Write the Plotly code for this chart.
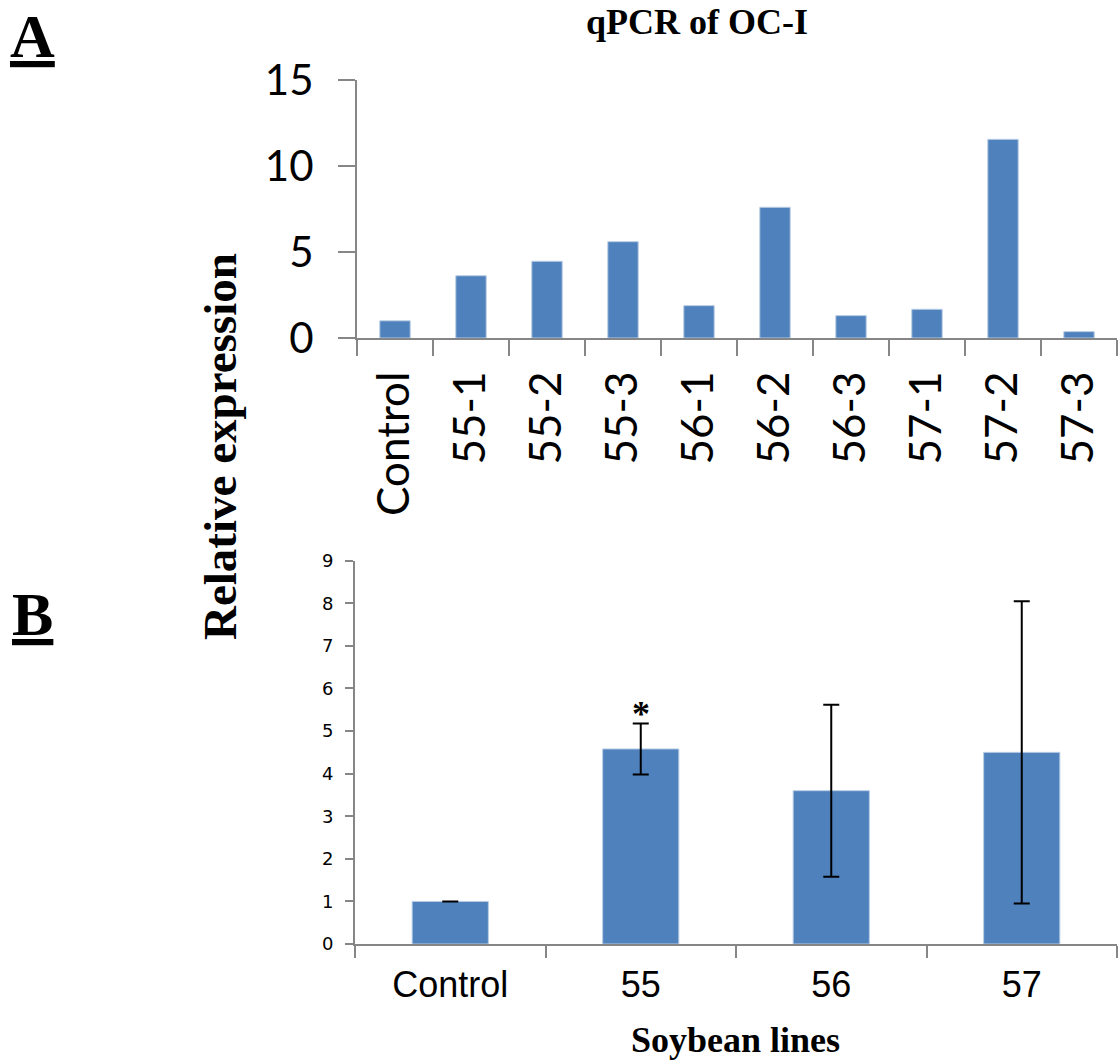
import plotly.graph_objects as go

# Panel A: individual transgenic lines
lines_a = ["Control", "55-1", "55-2", "55-3", "56-1", "56-2", "56-3", "57-1", "57-2", "57-3"]
expr_a = [1.0, 3.62, 4.46, 5.6, 1.88, 7.6, 1.3, 1.67, 11.55, 0.37]

# Panel B: mean per soybean line with error
lines_b = ["Control", "55", "56", "57"]
expr_b = [1.0, 4.58, 3.6, 4.5]
err_b = [0.0, 0.6, 2.02, 3.55]

W, H = 1118, 1062
BAR = "#4F81BD"
EDGE = "#B9CDE5"
AXIS = "#868686"


def px_x(x):
    return x / W


def px_y(y):
    return 1 - y / H


fig = go.Figure()

fig.add_trace(go.Bar(
    x=lines_a, y=expr_a, xaxis="x", yaxis="y",
    marker=dict(color=BAR, line=dict(color=EDGE, width=1)),
    showlegend=False,
))

fig.add_trace(go.Bar(
    x=lines_b, y=expr_b, xaxis="x2", yaxis="y2",
    marker=dict(color=BAR, line=dict(color=EDGE, width=1)),
    error_y=dict(type="data", array=err_b, visible=True,
                 color="black", thickness=2, width=8),
    showlegend=False,
))

axis_common = dict(showline=True, linecolor=AXIS, linewidth=2, showgrid=False,
                   zeroline=False, ticks="outside", tickcolor=AXIS, tickwidth=2,
                   automargin=False)

fig.update_layout(
    width=W, height=H,
    margin=dict(l=0, r=0, t=0, b=0),
    paper_bgcolor="white", plot_bgcolor="white",
    bargap=0.6,
    xaxis=dict(domain=[px_x(357), px_x(1117)], anchor="y", type="category",
               categoryorder="array", categoryarray=lines_a,
               range=[-0.5, len(lines_a) - 0.5],
               tickson="boundaries", ticklen=16, tickangle=-90,
               tickfont=dict(family="Lato", size=44, color="black"),
               ticklabelstandoff=14, **axis_common),
    yaxis=dict(domain=[px_y(338), px_y(80)], anchor="x", range=[0, 15],
               tickvals=[0, 5, 10, 15], ticklen=17,
               tickfont=dict(family="Lato", size=42, color="black"),
               ticklabelstandoff=16, **axis_common),
    xaxis2=dict(domain=[px_x(355), px_x(1117)], anchor="y2", type="category",
                categoryorder="array", categoryarray=lines_b,
                range=[-0.5, len(lines_b) - 0.5],
                tickson="boundaries", ticklen=12, tickangle=0,
                tickfont=dict(family="Liberation Sans", size=36, color="black"),
                ticklabelstandoff=8, **axis_common),
    yaxis2=dict(domain=[px_y(944), px_y(560.7)], anchor="x2", range=[0, 9],
                dtick=1, ticklen=8,
                tickfont=dict(family="DejaVu Sans", size=18, color="black"),
                ticklabelstandoff=8, **axis_common),
)

serif = "Liberation Serif"
notes = [
    dict(text="<b>qPCR of OC-I</b>", x=px_x(697), y=px_y(0), xanchor="center",
         yanchor="top", font=dict(family=serif, size=36, color="black")),
    dict(text="<b><u>A</u></b>", x=px_x(8), y=px_y(0), xanchor="left",
         yanchor="top", font=dict(family=serif, size=62, color="black")),
    dict(text="<b><u>B</u></b>", x=px_x(10), y=px_y(578), xanchor="left",
         yanchor="top", font=dict(family=serif, size=62, color="black")),
    dict(text="<b>Relative expression</b>", x=px_x(220), y=px_y(447),
         xanchor="center", yanchor="middle", textangle=-90,
         font=dict(family=serif, size=47, color="black")),
    dict(text="<b>Soybean lines</b>", x=px_x(735), y=px_y(1062), xanchor="center",
         yanchor="bottom", font=dict(family=serif, size=36, color="black")),
]
for n in notes:
    fig.add_annotation(xref="paper", yref="paper", showarrow=False, **n)

# significance marker above line 55 (category index 1)
fig.add_annotation(xref="x2", yref="y2", x=lines_b.index("55"), y=expr_b[1] + err_b[1],
                   text="<b>*</b>", showarrow=False, yanchor="bottom", yshift=-13,
                   font=dict(family=serif, size=36, color="black"))

fig.write_html("out.html")
